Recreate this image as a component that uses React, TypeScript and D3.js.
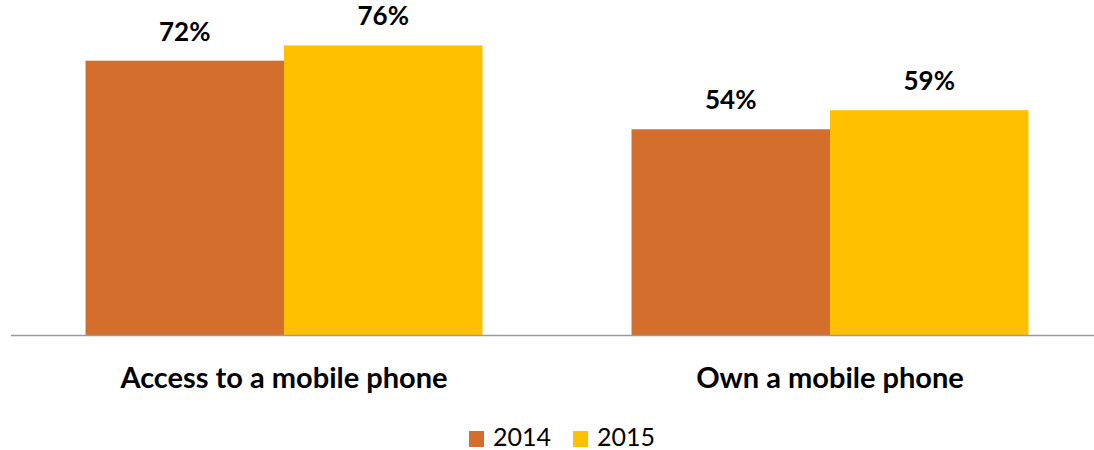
import React, { useEffect, useRef } from "react";
import * as d3 from "d3";

const categories = ["Access to a mobile phone", "Own a mobile phone"];
const seriesNames = ["2014", "2015"];
const values2014 = [72, 54];
const values2015 = [76, 59];
const colors = ["#D36E2C", "#FFC000"];

export default function App() {
  const ref = useRef<SVGSVGElement>(null);

  useEffect(() => {
    const svg = d3.select(ref.current);
    svg.selectAll("*").remove();
    const W = 1094;
    const baseY = 335;
    const font = "Lato, 'Open Sans', sans-serif";

    const x0 = d3.scaleBand<string>().domain(categories).range([11, 1103]).paddingInner(0.273).paddingOuter(0.1365);
    const x1 = d3.scaleBand<string>().domain(seriesNames).range([0, x0.bandwidth()]).padding(0);
    const y = d3.scaleLinear().domain([0, 100]).range([baseY, baseY - 381]);

    const series = [values2014, values2015];
    const data = categories.flatMap((c, i) => seriesNames.map((s, j) => ({ c, s, v: series[j][i], j })));

    const g = svg.append("g");
    g.selectAll("rect.bar").data(data).enter().append("rect")
      .attr("x", d => (x0(d.c) as number) + (x1(d.s) as number))
      .attr("y", d => y(d.v))
      .attr("width", x1.bandwidth())
      .attr("height", d => baseY - y(d.v))
      .attr("fill", d => colors[d.j]);

    g.selectAll("text.val").data(data).enter().append("text")
      .attr("x", d => (x0(d.c) as number) + (x1(d.s) as number) + x1.bandwidth() / 2)
      .attr("y", d => y(d.v) - 20)
      .attr("text-anchor", "middle")
      .attr("font-family", font)
      .attr("font-weight", "bold")
      .attr("font-size", 26)
      .attr("fill", "#000")
      .text(d => d.v + "%");

    g.append("line").attr("x1", 11).attr("x2", W).attr("y1", baseY + 0.5).attr("y2", baseY + 0.5)
      .attr("stroke", "#9a9a9a").attr("stroke-width", 1.5);

    g.selectAll("text.cat").data(categories).enter().append("text")
      .attr("x", d => (x0(d) as number) + x0.bandwidth() / 2)
      .attr("y", 388)
      .attr("text-anchor", "middle")
      .attr("font-family", font)
      .attr("font-weight", "bold")
      .attr("font-size", 29)
      .attr("fill", "#000")
      .text(d => d);

    const legendX = [469, 573];
    const lg = g.selectAll("g.leg").data(seriesNames).enter().append("g")
      .attr("transform", (d, i) => `translate(${legendX[i]},0)`);
    lg.append("rect").attr("x", 0).attr("y", 431).attr("width", 15).attr("height", 16).attr("fill", (d, i) => colors[i]);
    lg.append("text").attr("x", 24).attr("y", 446)
      .attr("font-family", font).attr("font-size", 25).attr("fill", "#000").text(d => d);
  }, []);

  return <svg ref={ref} width={1094} height={450} style={{ position: "absolute", left: 0, top: 0 }} />;
}
